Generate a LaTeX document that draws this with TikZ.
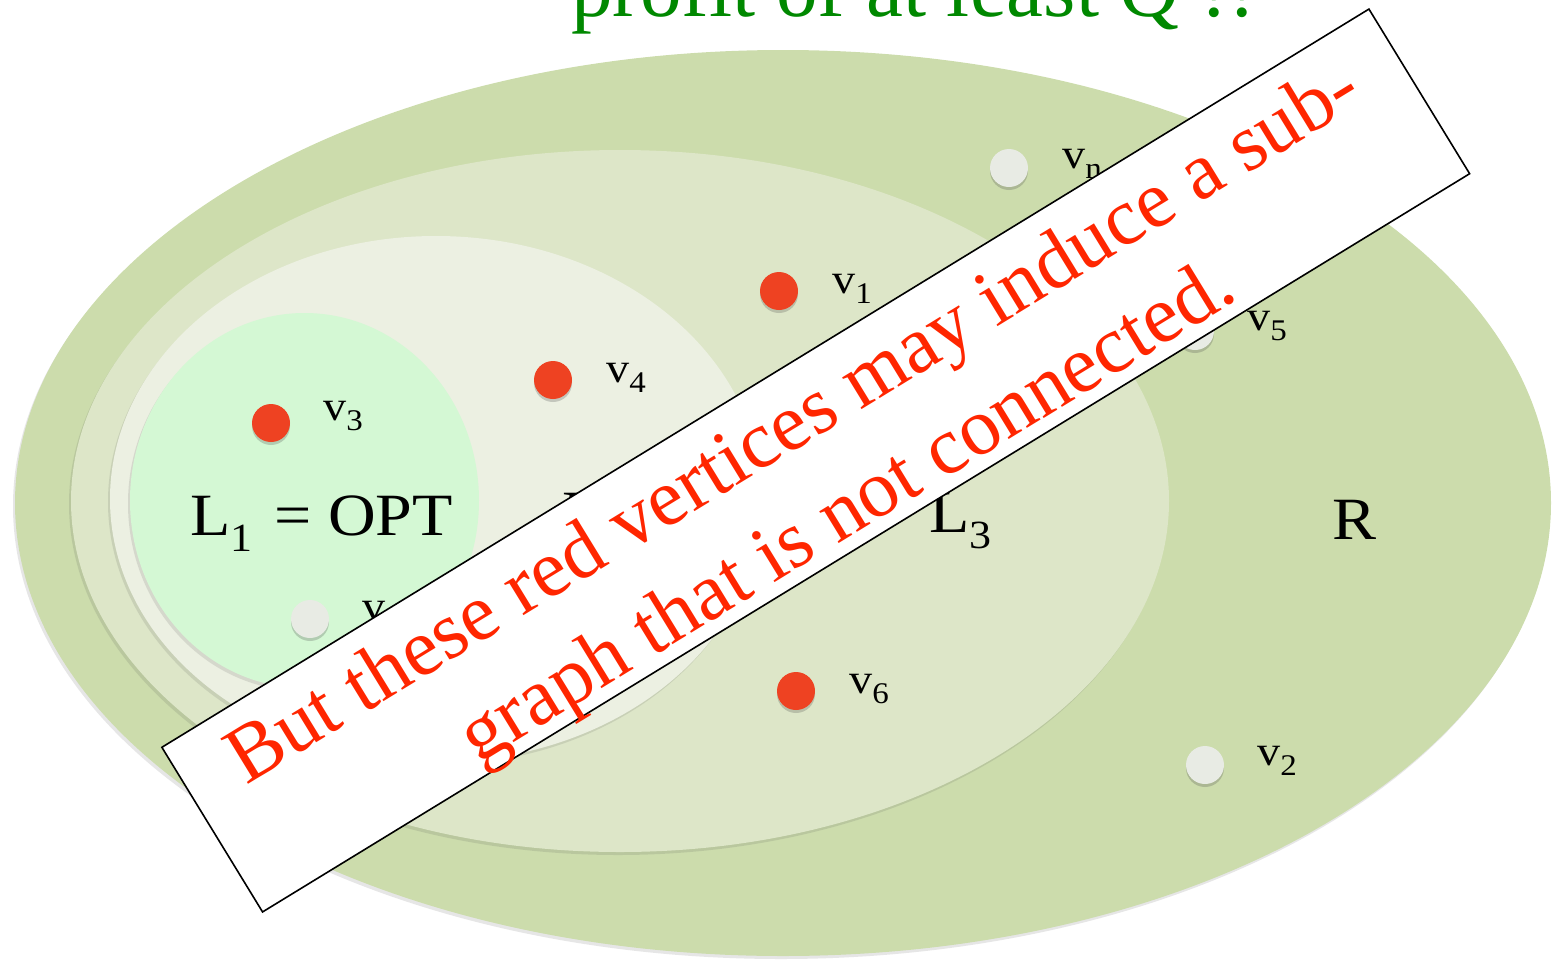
\documentclass[tikz,border=0pt]{standalone}
\usepackage{fontspec}
\setmainfont{Liberation Serif}
\newfontfamily\labfont{Liberation Serif}[FakeStretch=1.1]
\usepackage{graphicx}
\usetikzlibrary{shadows}
\definecolor{rcol}{RGB}{204,220,172}
\definecolor{lthree}{RGB}{221,230,200}
\definecolor{ltwo}{RGB}{236,240,226}
\definecolor{lone}{RGB}{212,248,212}
\definecolor{reddot}{RGB}{238,66,34}
\definecolor{whitedot}{RGB}{232,235,228}
\definecolor{bannerred}{RGB}{255,38,0}
\definecolor{titlegreen}{RGB}{0,136,0}
\newcommand\vsb[1]{\raisebox{-10pt}{\fontsize{30}{30}\selectfont #1}}
\newcommand\lsb[1]{\raisebox{-16pt}{\fontsize{40}{40}\selectfont #1}}
\tikzset{
  softshadow/.style={drop shadow={shadow xshift=-2pt, shadow yshift=-3pt, opacity=0.14, fill=black!70}},
  dotshadow/.style={drop shadow={shadow xshift=0pt, shadow yshift=-3pt, opacity=0.25, fill=black!70}},
  reddotstyle/.style={circle, minimum size=38pt, inner sep=0pt, fill=reddot, dotshadow},
  whitedotstyle/.style={circle, minimum size=38pt, inner sep=0pt, fill=whitedot, dotshadow},
  vlab/.style={anchor=base west, inner sep=0pt, font=\labfont\fontsize{42}{42}\selectfont},
  biglab/.style={anchor=base west, inner sep=0pt, font=\labfont\fontsize{60}{60}\selectfont},
  bannertext/.style={anchor=base, inner sep=0pt, text=bannerred, font=\fontsize{81}{102}\selectfont},
}
\begin{document}
\begin{tikzpicture}[x=1pt, y=-1pt]
\useasboundingbox (0,0) rectangle (1553,959);
% title (cut off at top)
\node[anchor=base west, inner sep=0pt, text=titlegreen, font=\fontsize{83}{83}\selectfont] (title) at (571,16) {profit of at least Q !!};
% regions
\path[fill=rcol, softshadow] (783,503) ellipse [x radius=768, y radius=453];
\path[fill=lthree, softshadow] (620,501) ellipse [x radius=549, y radius=351];
\path[fill=ltwo, softshadow] (436,499) ellipse [x radius=326, y radius=263];
\path[fill=lone, softshadow] (304.5,500.5) ellipse [x radius=174.5, y radius=187.5];
% region labels
\node[biglab] (l1) at (190,535) {L\lsb{1}\hspace{22pt}= OPT};
\node[biglab] (l2) at (562,532) {L\lsb{2}};
\node[biglab] (l3) at (929,532) {L\lsb{3}};
\node[biglab] (r) at (1332,539) {R};
% vertices
\node[whitedotstyle] (vn) at (1009,168) {};
\node[vlab] (lvn) at (1062,168) {v\vsb{n}};
\node[reddotstyle] (v1) at (779,291) {};
\node[vlab] (lv1) at (832,293) {v\vsb{1}};
\node[reddotstyle] (v4) at (553,380) {};
\node[vlab] (lv4) at (606,382) {v\vsb{4}};
\node[reddotstyle] (v3) at (271,423) {};
\node[vlab] (lv3) at (323,420) {v\vsb{3}};
\node[whitedotstyle] (v5) at (1195,331) {};
\node[vlab] (lv5) at (1247,330) {v\vsb{5}};
\node[whitedotstyle] (vx) at (310,619) {};
\node[vlab] (lvx) at (362,620) {v};
\node[reddotstyle] (v6) at (796,691) {};
\node[vlab] (lv6) at (849,693) {v\vsb{6}};
\node[whitedotstyle] (v2) at (1205,765) {};
\node[vlab] (lv2) at (1257,765) {v\vsb{2}};
% banner
\node[draw=black, line width=1.6pt, fill=white, minimum width=1415pt, minimum height=193pt, inner sep=0pt, rotate=31.45] (banner) at (815.75,460.5) {};
\begin{scope}[shift={(815.75,460.5)}, rotate=31.45, transform shape]
\node[bannertext] (line1) at (0,-19.5) {But these red vertices may induce a sub-};
\node[bannertext] (line2) at (0,83) {graph that is not connected.};
\end{scope}
\end{tikzpicture}
\end{document}
